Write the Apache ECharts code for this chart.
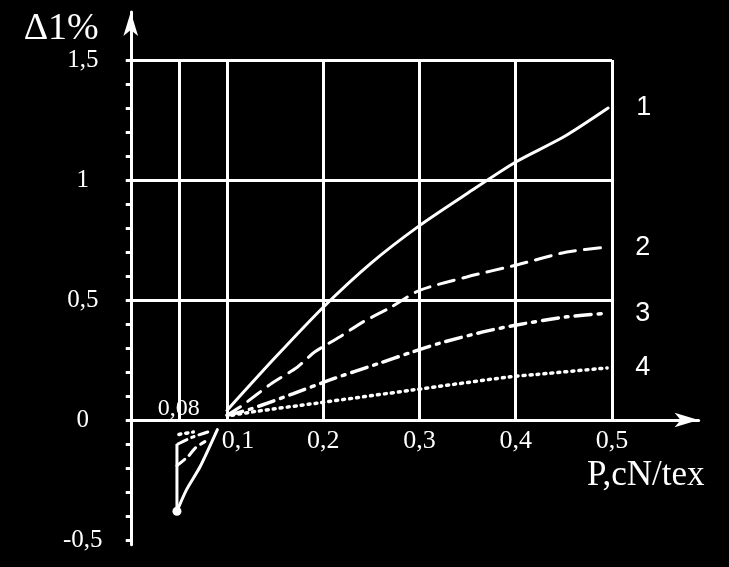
<!DOCTYPE html>
<html>
<head>
<meta charset="utf-8">
<script src="https://cdn.jsdelivr.net/npm/echarts@6/dist/echarts.min.js"></script>
<style>
html,body{margin:0;padding:0;background:#000;}
#chart{width:729px;height:567px;}
</style>
</head>
<body>
<div id="chart"></div>
<script>
// ---- data ----
const xTickLabels = [0.1, 0.2, 0.3, 0.4, 0.5];
const yTickLabels = [-0.5, 0, 0.5, 1, 1.5];
const gridX = [0.05, 0.1, 0.2, 0.3, 0.4, 0.5];
const gridY = [0.5, 1, 1.5];
const seriesNames = ['1', '2', '3', '4'];

const curve1 = [[0.1,0.04],[0.15,0.26],[0.2,0.47],[0.25,0.655],[0.3,0.81],[0.35,0.945],[0.4,1.075],[0.45,1.18],[0.496,1.30]];
const curve2 = [[0.1,0.02],[0.1135,0.054],[0.147,0.154],[0.173,0.22],[0.191,0.283],[0.217,0.346],[0.241,0.408],[0.269,0.467],[0.3,0.54],[0.349,0.596],[0.401,0.646],[0.453,0.70],[0.495,0.72]];
const curve3 = [[0.1,0.02],[0.124,0.045],[0.169,0.11],[0.207,0.167],[0.259,0.2375],[0.29,0.28],[0.321,0.32],[0.366,0.367],[0.401,0.396],[0.453,0.43],[0.495,0.445]];
const curve4 = [[0.105,0.02],[0.132,0.037],[0.193,0.07],[0.293,0.125],[0.394,0.18],[0.422,0.19],[0.495,0.217]];

const curve1Low = [[0.048,-0.38],[0.058,-0.29],[0.072,-0.195],[0.09,-0.04]];
const curve2Low = [[0.048,-0.19],[0.06,-0.15],[0.067,-0.117],[0.077,-0.09]];
const curve3Low = [[0.049,-0.1],[0.065,-0.07],[0.08,-0.05]];
const curve4Low = [[0.05,-0.06],[0.065,-0.05]];
const lowEdge = [[0.048,-0.1],[0.048,-0.38]];
const startMark = [[0.048,-0.38]];
const sideNote = '0,08';

// ---- chart ----
const W = '#ffffff';
const serif = 'Liberation Serif, Times New Roman, serif';
const sans = 'Liberation Sans, Arial, sans-serif';
const fmt = v => String(v).replace('.', ',');

const yMinor = [];
for (let i = -5; i <= 15; i++) yMinor.push(+(i / 10).toFixed(1));

const gridLines = [];
gridX.forEach(x => gridLines.push([{coord:[x, 0]}, {coord:[x, 1.5]}]));
gridY.forEach(y => gridLines.push([{coord:[0, y]}, {coord:[0.5, y]}]));

function curve(name, data, type, withLabel, width) {
  return {
    type: 'line', name: name, data: data, smooth: 0.25, symbol: 'none',
    lineStyle: {color: W, width: width || 3, type: type, cap: 'round'},
    endLabel: withLabel ? {
      show: true, formatter: name, color: W, fontFamily: sans, fontSize: 27, distance: 28
    } : {show: false},
    silent: true, z: 3
  };
}

const chart = echarts.init(document.getElementById('chart'));
chart.setOption({
  backgroundColor: '#000',
  animation: false,
  grid: {left: 130.75, right: 30.4, top: 12, bottom: 22.2},
  xAxis: {
    type: 'value', min: 0, max: 0.59,
    name: 'P,cN/tex', nameLocation: 'end', nameGap: 6,
    nameTextStyle: {color: W, fontFamily: serif, fontSize: 35, align: 'right', verticalAlign: 'top', padding: [38, 0, 0, 0]},
    axisLine: {show: true, onZero: true, lineStyle: {color: W, width: 3}, symbol: ['none', 'arrow'], symbolSize: [11, 24]},
    axisTick: {show: false},
    splitLine: {show: false},
    axisLabel: {
      customValues: xTickLabels, color: W, fontFamily: serif, fontSize: 26, margin: -117,
      formatter: v => v === 0.1 ? '{s|' + fmt(v) + '}' : fmt(v),
      rich: {s: {color: W, fontFamily: serif, fontSize: 26, padding: [0, 0, 0, 22]}}
    }
  },
  yAxis: {
    type: 'value', min: -0.52, max: 1.7,
    name: 'Δ1%', nameLocation: 'end', nameGap: 0,
    nameTextStyle: {color: W, fontFamily: serif, fontSize: 38, align: 'right', verticalAlign: 'top', padding: [0, 32, 0, 0]},
    axisLine: {show: true, lineStyle: {color: W, width: 3}, symbol: ['none', 'arrow'], symbolSize: [11, 24]},
    axisTick: {show: true, customValues: yMinor, length: 5, lineStyle: {color: W, width: 3}},
    splitLine: {show: false},
    axisLabel: {
      customValues: yTickLabels, color: W, fontFamily: serif, fontSize: 25, margin: 48, align: 'center',
      formatter: fmt
    }
  },
  series: [
    {
      type: 'line', data: [], silent: true, z: 2,
      markLine: {
        silent: true, symbol: 'none', label: {show: false},
        lineStyle: {color: W, width: 3, type: 'solid'},
        emphasis: {disabled: true},
        data: gridLines
      }
    },
    curve(seriesNames[0], curve1, 'solid', true),
    curve(seriesNames[1], curve2, [16, 9], true),
    curve(seriesNames[2], curve3, [16, 7, 3, 7], true, 3.5),
    curve(seriesNames[3], curve4, [2, 5], true, 3.5),
    curve('1l', curve1Low, 'solid', false),
    curve('2l', curve2Low, [10, 6], false),
    curve('3l', curve3Low, [10, 5, 3, 5], false),
    curve('4l', curve4Low, [2, 5], false, 3.5),
    {type: 'line', data: lowEdge, symbol: 'none', silent: true, lineStyle: {color: W, width: 3}},
    {type: 'scatter', data: startMark, symbolSize: 9, itemStyle: {color: W, opacity: 1}, silent: true,
     label: {show: false}},
    {type: 'scatter', data: [[0.05, 0.045]], symbolSize: 0, silent: true, itemStyle: {color: W, opacity: 1},
     label: {show: true, formatter: sideNote, color: W, opacity: 1, fontFamily: serif, fontSize: 24, position: 'inside'}}
  ]
});
</script>
</body>
</html>
